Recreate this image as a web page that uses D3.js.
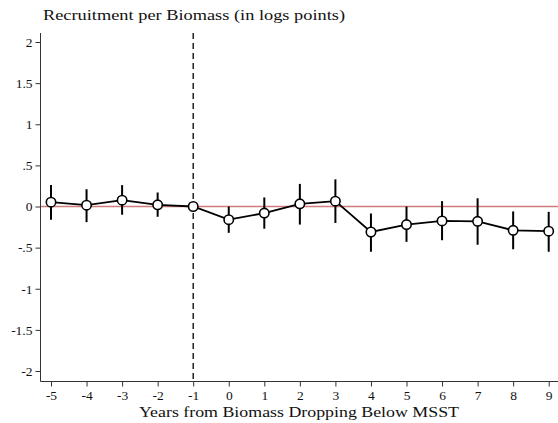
<!DOCTYPE html>
<html>
<head>
<meta charset="utf-8">
<script src="https://cdn.jsdelivr.net/npm/d3@7"></script>
<style>
  html, body { margin: 0; padding: 0; background: #fff; }
  svg { display: block; font-family: "Liberation Serif", "DejaVu Serif", serif; }
</style>
</head>
<body>
<svg id="chart" width="558" height="423"></svg>
<script>
// Event-study estimates by year relative to biomass dropping below MSST
const years    = [-5, -4, -3, -2, -1, 0, 1, 2, 3, 4, 5, 6, 7, 8, 9];
const estimate = [0.052, 0.016, 0.077, 0.020, 0.0, -0.16, -0.08, 0.033, 0.065, -0.31, -0.22, -0.175, -0.18, -0.29, -0.30];
const ciLow    = [-0.16, -0.19, -0.10, -0.125, 0.0, -0.32, -0.27, -0.22, -0.20, -0.55, -0.43, -0.41, -0.465, -0.52, -0.55];
const ciHigh   = [0.26, 0.21, 0.26, 0.17, 0.0, 0.0, 0.11, 0.275, 0.33, -0.085, 0.0, 0.065, 0.10, -0.06, -0.065];
const yTicks   = [2, 1.5, 1, 0.5, 0, -0.5, -1, -1.5, -2];
const yTickLabels = ["2", "1.5", "1", ".5", "0", "-.5", "-1", "-1.5", "-2"];
const refYear  = -1;

const svg = d3.select("#chart");
const axisX = 40.5, axisY = 381.5, plotTop = 33, plotRight = 558;

const x = d3.scaleLinear().domain([-5, 9]).range([51, 548.7]);
const y = d3.scaleLinear().domain([-2, 2]).range([371, 42]);

// Zero reference line
svg.append("line")
  .attr("x1", axisX).attr("x2", plotRight)
  .attr("y1", y(0)).attr("y2", y(0))
  .attr("stroke", "#d07c7c").attr("stroke-width", 1.6);

// Vertical reference at the year before the drop
svg.append("line")
  .attr("x1", x(refYear)).attr("x2", x(refYear))
  .attr("y1", plotTop).attr("y2", axisY)
  .attr("stroke", "#000").attr("stroke-width", 1.3)
  .attr("stroke-dasharray", "6,4");

// Y axis
const yAxis = d3.axisLeft(y).tickValues(yTicks)
  .tickFormat((d, i) => yTickLabels[i]).tickSize(5).tickPadding(3);
const gy = svg.append("g").attr("transform", `translate(${axisX},0)`).call(yAxis);
gy.select(".domain").remove();
gy.append("line").attr("x1", 0).attr("x2", 0).attr("y1", plotTop).attr("y2", axisY)
  .attr("stroke", "#333").attr("stroke-width", 1);

// X axis (plain hyphen for negatives)
const xAxis = d3.axisBottom(x).tickValues(years).tickFormat(d => String(d)).tickSize(5).tickPadding(4);
const gx = svg.append("g").attr("transform", `translate(0,${axisY})`).call(xAxis);
gx.select(".domain").remove();
gx.append("line").attr("x1", axisX).attr("x2", plotRight).attr("y1", 0).attr("y2", 0)
  .attr("stroke", "#333").attr("stroke-width", 1);

svg.selectAll(".tick line").attr("stroke", "#333");
svg.selectAll(".tick text").attr("font-size", 13.5).attr("fill", "#111")
  .attr("font-family", "Liberation Serif, serif");

// Confidence intervals
const pts = years.map((yr, i) => ({ yr, est: estimate[i], lo: ciLow[i], hi: ciHigh[i] }));
svg.append("g").selectAll("line").data(pts.filter(d => d.hi !== d.lo)).join("line")
  .attr("x1", d => x(d.yr)).attr("x2", d => x(d.yr))
  .attr("y1", d => y(d.hi)).attr("y2", d => y(d.lo))
  .attr("stroke", "#000").attr("stroke-width", 2);

// Connecting line
svg.append("path").datum(pts)
  .attr("d", d3.line().x(d => x(d.yr)).y(d => y(d.est)))
  .attr("fill", "none").attr("stroke", "#000").attr("stroke-width", 1.8);

// Point markers
svg.append("g").selectAll("circle").data(pts).join("circle")
  .attr("cx", d => x(d.yr)).attr("cy", d => y(d.est)).attr("r", 4.7)
  .attr("fill", "#fff").attr("stroke", "#000").attr("stroke-width", 1.6);

// Titles
svg.append("text").attr("x", 43).attr("y", 20)
  .attr("font-size", 15.5).attr("fill", "#111")
  .attr("textLength", 302).attr("lengthAdjust", "spacingAndGlyphs")
  .text("Recruitment per Biomass (in logs points)");
svg.append("text").attr("x", 139).attr("y", 417)
  .attr("font-size", 15.5).attr("fill", "#111")
  .attr("textLength", 320).attr("lengthAdjust", "spacingAndGlyphs")
  .text("Years from Biomass Dropping Below MSST");
</script>
</body>
</html>
